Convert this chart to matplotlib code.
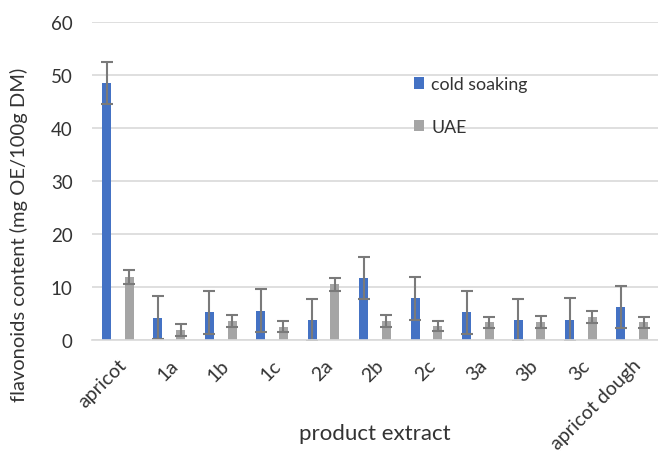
import matplotlib
matplotlib.use("Agg")
import matplotlib.pyplot as plt
import matplotlib.transforms as mtransforms
import numpy as np

plt.rcParams['font.family'] = ['Lato', 'DejaVu Sans']

categories = ["apricot", "1a", "1b", "1c", "2a", "2b", "2c", "3a", "3b", "3c", "apricot dough"]
cold_soaking = [48.5, 4.2, 5.2, 5.5, 3.7, 11.7, 7.8, 5.2, 3.7, 3.8, 6.2]
cold_err = [4.0, 4.0, 4.1, 4.0, 4.0, 4.0, 4.0, 4.1, 4.0, 4.0, 4.0]
uae = [11.8, 1.9, 3.5, 2.5, 10.5, 3.5, 2.6, 3.3, 3.4, 4.3, 3.3]
uae_err = [1.3, 1.1, 1.1, 1.1, 1.2, 1.1, 1.0, 1.1, 1.1, 1.2, 1.1]

fig = plt.figure(figsize=(6.58, 4.52), dpi=100)
ax = fig.add_axes([0.14, 0.246, 0.86, 0.703])

x = np.arange(len(categories))
off = 0.22
w = 0.175
ekw = dict(ecolor='#7a7a7a', elinewidth=1.5, capsize=4, capthick=1.5)
ax.bar(x - off, cold_soaking, w, color='#4472C4', label='cold soaking', zorder=2,
       yerr=cold_err, error_kw=ekw)
ax.bar(x + off, uae, w, color='#A5A5A5', label='UAE', zorder=2,
       yerr=uae_err, error_kw=ekw)

ax.set_ylim(0, 60)
ax.set_yticks(range(0, 61, 10))
ax.set_xlim(-0.5, len(categories) - 0.5)
ax.yaxis.grid(True, color='#D9D9D9', linewidth=1.2, zorder=0)
ax.set_axisbelow(True)
for s in ['top', 'right', 'left']:
    ax.spines[s].set_visible(False)
ax.spines['bottom'].set_color('#D9D9D9')
ax.spines['bottom'].set_linewidth(1.2)
ax.tick_params(axis='both', length=0, colors='#333333')
ax.tick_params(axis='y', pad=14, labelsize=13.5)
ax.tick_params(axis='x', pad=16, labelsize=14)
ax.set_xticks(x)
ax.set_xticklabels(categories, rotation=45, ha='right', va='center', rotation_mode='anchor')
shift = mtransforms.ScaledTranslation(6 / 100, 0, fig.dpi_scale_trans)
for lbl in ax.get_xticklabels():
    lbl.set_transform(lbl.get_transform() + shift)

ax.set_ylabel('flavonoids content (mg OE/100g DM)', fontsize=14.5, color='#333333')
ax.yaxis.set_label_coords(-0.113, 0.333)
ax.set_xlabel('product extract', fontsize=16, color='#333333')
ax.xaxis.set_label_coords(0.5, -0.262)

leg = ax.legend(loc='upper left', bbox_to_anchor=(0.54, 0.88), frameon=False, fontsize=12.8,
                labelspacing=1.5, handlelength=0.6, handleheight=0.6, handletextpad=0.4)
for t in leg.get_texts():
    t.set_color('#333333')

fig.savefig('out.png', dpi=100)
